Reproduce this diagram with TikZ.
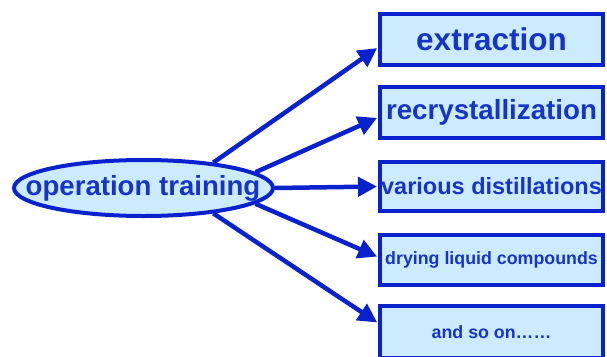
\documentclass[tikz,border=0pt]{standalone}
\usepackage{fontspec}
\setmainfont{Liberation Sans}
\usetikzlibrary{arrows.meta,shapes.geometric}
\definecolor{bord}{HTML}{0A22CC}
\definecolor{boxfill}{HTML}{CCEBFF}
\definecolor{txt}{HTML}{1535C8}
\tikzset{
  stepbox/.style={draw=bord, fill=boxfill, line width=4pt, rectangle,
    minimum width=223pt, inner sep=0pt, text=txt, font=\bfseries},
  conn/.style={draw=bord, line width=4.5pt,
    -{Triangle[length=19pt,width=19pt]}, shorten >=1pt}
}
\begin{document}
\begin{tikzpicture}[x=1pt,y=-1pt]
\clip (0,0) rectangle (607,356);
\node[draw=bord, fill=boxfill, line width=4pt, ellipse, inner sep=0pt,
  minimum width=259pt, minimum height=56pt] (ell) at (143.5,188) {};
\node[text=txt, inner sep=0pt,
  font=\fontsize{27.6}{30}\selectfont\bfseries] (ellt) at (143,188) {operation training};
\node[stepbox, minimum height=51pt, font=\fontsize{31.5}{34}\selectfont\bfseries] (b1) at (491.5,39.5) {extraction};
\node[stepbox, minimum height=51pt, font=\fontsize{27.7}{30}\selectfont\bfseries] (b2) at (491.5,112.5) {recrystallization};
\node[stepbox, minimum height=49pt, font=\fontsize{23.5}{26}\selectfont\bfseries] (b3) at (491.5,186.5) {various distillations};
\node[stepbox, minimum height=50pt, font=\fontsize{17.8}{20}\selectfont\bfseries] (b4) at (491.5,260) {drying liquid compounds};
\node[stepbox, minimum height=52pt, font=\fontsize{17.8}{20}\selectfont\bfseries] (b5) at (491.5,332) {and so on\ldots\ldots};
\draw[conn] (ell.20) -- ([yshift=-8pt]b1.west);
\draw[conn] (ell.8) -- ([yshift=-5pt]b2.west);
\draw[conn] (ell.east) -- (b3.west);
\draw[conn] (ell.-8) -- ([yshift=3pt]b4.west);
\draw[conn] (ell.-20) -- ([yshift=9pt]b5.west);
\end{tikzpicture}
\end{document}
